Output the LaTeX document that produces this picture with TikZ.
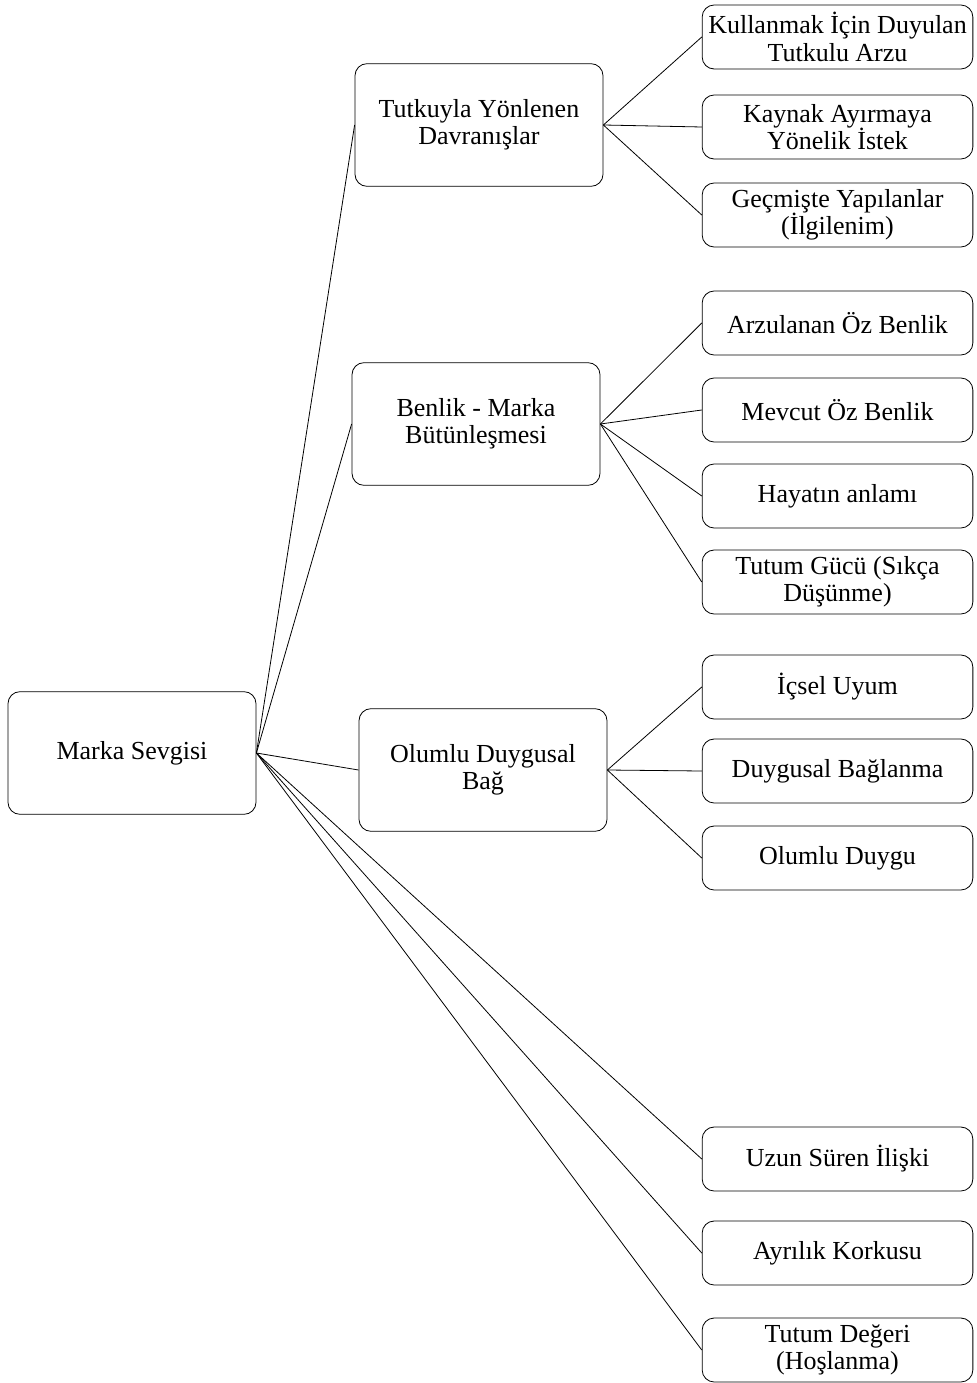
\documentclass[tikz,border=0pt]{standalone}
\usepackage{fontspec}
\setmainfont{Liberation Serif}
\usetikzlibrary{positioning}

\begin{document}
\begin{tikzpicture}[
    x=0.75pt, y=-0.75pt,
    box/.style={rectangle, rounded corners=9pt, draw=black, line width=0.6pt,
                align=center, font=\fontsize{19.5}{20.5}\selectfont},
    mainbox/.style={box, minimum width=186pt, minimum height=92pt},
    leafbox/.style={box, minimum width=203pt, minimum height=48pt},
    link/.style={draw=black, line width=0.6pt}
]
\useasboundingbox (0,0) rectangle (976,1383);

% root
\node[mainbox] (sevgi) at (132,753) {Marka Sevgisi};

% middle level
\node[mainbox] (tutku) at (479,125) {Tutkuyla Yönlenen\\Davranışlar};
\node[mainbox] (benlik) at (476,424) {Benlik - Marka\\Bütünleşmesi};
\node[mainbox] (olumlu) at (483,770) {Olumlu Duygusal\\Bağ};

% leaves
\node[leafbox] (arzu) at (837.5,37) {Kullanmak İçin Duyulan\\Tutkulu Arzu};
\node[leafbox] (kaynak) at (837.5,127) {Kaynak Ayırmaya\\Yönelik İstek};
\node[leafbox] (gecmis) at (837.5,215) {Geçmişte Yapılanlar\\(İlgilenim)};
\node[leafbox] (arzulanan) at (837.5,323) {Arzulanan Öz Benlik};
\node[leafbox] (mevcut) at (837.5,410) {Mevcut Öz Benlik};
\node[leafbox] (hayat) at (837.5,496) {Hayatın anlamı};
\node[leafbox] (guc) at (837.5,582) {Tutum Gücü (Sıkça\\Düşünme)};
\node[leafbox] (uyum) at (837.5,687) {İçsel Uyum};
\node[leafbox] (baglanma) at (837.5,771) {Duygusal Bağlanma};
\node[leafbox] (duygu) at (837.5,858) {Olumlu Duygu};
\node[leafbox] (iliski) at (837.5,1159) {Uzun Süren İlişki};
\node[leafbox] (korku) at (837.5,1253) {Ayrılık Korkusu};
\node[leafbox] (deger) at (837.5,1350) {Tutum Değeri\\(Hoşlanma)};

% connectors
\foreach \t in {tutku,benlik,olumlu,iliski,korku,deger}
    \draw[link] (sevgi.east) -- (\t.west);
\foreach \t in {arzu,kaynak,gecmis}
    \draw[link] (tutku.east) -- (\t.west);
\foreach \t in {arzulanan,mevcut,hayat,guc}
    \draw[link] (benlik.east) -- (\t.west);
\foreach \t in {uyum,baglanma,duygu}
    \draw[link] (olumlu.east) -- (\t.west);

\end{tikzpicture}
\end{document}
